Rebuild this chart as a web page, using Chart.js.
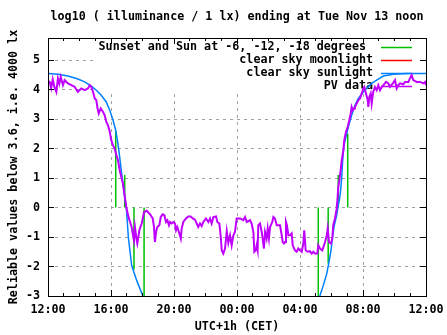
<!DOCTYPE html>
<html>
<head>
<meta charset="utf-8">
<script src="https://cdn.jsdelivr.net/npm/chart.js@4.4.1/dist/chart.umd.min.js"></script>
<style>
html, body { margin: 0; padding: 0; background: #fff; }
canvas { display: block; }
</style>
</head>
<body>
<canvas id="chart" width="447" height="335"></canvas>
<script>
// one day of readings, hours counted from 12:00 CET
var pvHours = [0, 0.11, 0.2, 0.3, 0.4, 0.53, 0.63, 0.72, 0.81, 0.95, 1.06, 1.27, 1.48, 1.7, 1.9, 2.11, 2.33, 2.54, 2.65, 2.75,
  2.86, 2.97, 3.07, 3.13, 3.22, 3.35, 3.49, 3.6, 3.7, 3.81, 3.92, 4.02, 4.13, 4.23, 4.34, 4.44, 4.55, 4.65, 4.76, 4.83,
  4.91, 4.97, 5.1, 5.21, 5.31, 5.38, 5.46, 5.52, 5.63, 5.67, 5.8, 5.95, 6.1, 6.27, 6.48, 6.65, 6.73, 6.79, 6.86, 6.94,
  7.07, 7.16, 7.28, 7.39, 7.49, 7.58, 7.68, 7.75, 7.85, 7.96, 8.06, 8.13, 8.21, 8.34, 8.43, 8.49, 8.59, 8.76, 8.91, 9.06,
  9.19, 9.33, 9.44, 9.54, 9.65, 9.76, 9.86, 10.03, 10.18, 10.29, 10.39, 10.5, 10.67, 10.75, 10.88, 10.97, 11.03, 11.13, 11.24, 11.35,
  11.45, 11.56, 11.66, 11.77, 11.87, 11.98, 12.19, 12.4, 12.51, 12.62, 12.83, 12.93, 13.04, 13.1, 13.19, 13.25, 13.31, 13.35, 13.46, 13.57,
  13.63, 13.71, 13.78, 13.88, 13.95, 14.03, 14.1, 14.24, 14.31, 14.41, 14.52, 14.73, 14.84, 14.9, 14.98, 15.05, 15.11, 15.17, 15.26, 15.37,
  15.47, 15.54, 15.68, 15.79, 15.89, 16, 16.11, 16.21, 16.27, 16.36, 16.49, 16.63, 16.74, 16.84, 16.95, 17.1, 17.16, 17.27, 17.42, 17.59,
  17.7, 17.76, 17.84, 17.97, 18.05, 18.11, 18.22, 18.33, 18.39, 18.43, 18.5, 18.58, 18.65, 18.75, 18.81, 18.92, 19.03, 19.13, 19.22, 19.28,
  19.35, 19.43, 19.49, 19.6, 19.7, 19.81, 19.92, 20.02, 20.08, 20.19, 20.3, 20.34, 20.4, 20.49, 20.55, 20.65, 20.76, 20.87, 20.97, 21.08,
  21.19, 21.3, 21.46, 21.61, 21.71, 21.92, 22.03, 22.14, 22.24, 22.35, 22.56, 22.67, 22.88, 22.98, 23.09, 23.19, 23.41, 23.62, 23.83, 23.94, 24];
var pvLog = [4.3, 4.26, 4.05, 4.35, 4.1, 3.92, 4.38, 4.2, 4.43, 4.15, 4.32, 4.21, 4.15, 4.09, 3.92, 4.04, 3.98, 4.04, 4.15, 4.09,
  3.92, 3.7, 3.64, 3.41, 3.19, 3.36, 3.25, 3.13, 2.91, 2.79, 2.57, 2.28, 2.11, 2, 1.78, 1.61, 1.27, 1.04, 0.81, 0.53,
  0.25, 0.02, -0.3, -0.49, -0.66, -0.88, -1.11, -0.66, -1.11, -1.22, -0.77, -0.54, -0.15, -0.11, -0.23, -0.37, -0.66, -1.17, -0.83, -0.66,
  -0.6, -0.32, -0.23, -0.26, -0.49, -0.43, -0.6, -0.49, -0.54, -0.49, -0.54, -0.77, -0.66, -0.88, -1.05, -0.71, -0.49, -0.37, -0.3, -0.3,
  -0.37, -0.41, -0.54, -0.66, -0.54, -0.63, -0.49, -0.37, -0.49, -0.37, -0.54, -0.32, -0.3, -0.49, -0.54, -1, -1.45, -1.56, -1.39, -0.8,
  -1.2, -0.94, -1.28, -0.94, -0.83, -0.37, -0.37, -0.43, -0.32, -0.49, -0.43, -0.54, -0.83, -1.5, -1.45, -1.28, -1.45, -0.6, -0.54, -0.83,
  -1.05, -1.39, -0.83, -1.05, -0.71, -1.05, -0.66, -0.49, -0.32, -0.37, -0.6, -0.6, -0.94, -1.17, -1.22, -1.17, -0.49, -0.6, -0.94, -0.94,
  -0.88, -1.28, -1.45, -1.5, -1.39, -1.45, -1.5, -1.22, -0.77, -1.45, -1.5, -1.48, -1.56, -1.5, -1.56, -1.56, -1.28, -1.39, -1.45, -1.17,
  -0.94, -0.71, -1.17, -1.22, -1.05, -0.6, -0.37, -0.03, 0.36, 0.7, 0.93, 1.27, 1.61, 1.94, 2.28, 2.57, 2.74, 2.96, 3.19, 3.41,
  3.3, 3.36, 3.41, 3.53, 3.64, 3.7, 3.87, 4.04, 4.09, 3.87, 3.64, 3.41, 3.75, 3.87, 3.53, 3.92, 4.09, 3.98, 4.15, 3.98,
  4.09, 4.15, 4.26, 4.21, 4.09, 4.23, 4.32, 4.04, 4.15, 4.21, 4.18, 4.26, 4.26, 4.38, 4.49, 4.32, 4.26, 4.26, 4.21, 4.26, 4.15];

// clear sky model (null = sun far below the horizon)
var sunHours = [0, 0.63, 1.27, 1.9, 2.33, 2.75, 3.07, 3.38, 3.7, 3.92, 4.13, 4.3, 4.44, 4.55, 4.65, 4.76, 4.87, 4.97, 5.1, 5.31,
  5.63, 6.01, 6.15, 12, 17.15, 17.27, 17.48, 17.7, 17.84, 17.97, 18.05, 18.18, 18.33, 18.43, 18.5, 18.58, 18.65, 18.71, 18.79, 19.07,
  19.28, 19.49, 19.7, 20.02, 20.23, 20.55, 20.87, 21.29, 21.92, 22.77, 24];
var sunLog = [4.55, 4.52, 4.46, 4.36, 4.26, 4.12, 3.98, 3.81, 3.58, 3.3, 2.96, 2.62, 2.17, 1.72, 1.27, 0.81, 0.36, 0.02, -1, -1.96,
  -2.47, -2.98, -3.3, null, -3.3, -2.98, -2.64, -2.24, -1.85, -1.45, -1.05, -0.6, -0.26, 0.08, 0.25, 0.59, 1.04, 1.61, 2.11, 2.74,
  3.13, 3.47, 3.7, 3.92, 4.04, 4.21, 4.32, 4.46, 4.52, 4.55, 4.55];

var moonHours = [];
var moonLog = [];

// sunset, -6, -12, -18 degrees in the evening, then the same in the morning
var twilightHours = [4.3, 4.87, 5.46, 6.1, 17.16, 17.79, 18.43, 19.03];
var twilightLog = [2.6, 1.1, -2.1, -3.2, -3.3, -1.9, 1.1, 2.5];

var tickLabels = ["12:00", "16:00", "20:00", "00:00", "04:00", "08:00", "12:00"];
var logTicks = [-3, -2, -1, 0, 1, 2, 3, 4, 5];

function toPoints(hours, values) {
  return hours.map(function(h, i) { return {x: h, y: values[i]}; });
}

// gnuplot style impulses from 0
function impulses(hours, values) {
  var pts = [];
  hours.forEach(function(h, i) {
    pts.push({x: h, y: 0}, {x: h, y: values[i]}, {x: h, y: null});
  });
  return pts;
}

var monoFont = {family: "'DejaVu Sans Mono', monospace", size: 11.7, weight: "bold", lineHeight: "14px"};

var keyBox = {
  id: "keyBox",
  beforeDatasetsDraw: function(chart) {
    var ctx = chart.ctx, a = chart.chartArea;
    ctx.save();
    ctx.fillStyle = "#fff";
    ctx.fillRect(97, a.top, a.right - 97, 55);
    ctx.font = "bold 11.7px 'DejaVu Sans Mono'";
    ctx.textAlign = "right";
    ctx.textBaseline = "middle";
    chart.data.datasets.forEach(function(ds, i) {
      var y = a.top + 9 + i * 13;
      ctx.fillStyle = "#000";
      ctx.fillText(ds.label, 373, y);
      ctx.strokeStyle = ds.borderColor;
      ctx.lineWidth = 1.5;
      ctx.beginPath();
      ctx.moveTo(381, y + 0.5);
      ctx.lineTo(412, y + 0.5);
      ctx.stroke();
    });
    ctx.restore();
  }
};

var frame = {
  id: "frame",
  afterDatasetsDraw: function(chart) {
    var ctx = chart.ctx, a = chart.chartArea;
    var xs = chart.scales.x, ys = chart.scales.y;
    function seg(x1, y1, x2, y2) {
      ctx.beginPath(); ctx.moveTo(x1, y1); ctx.lineTo(x2, y2); ctx.stroke();
    }
    ctx.save();
    ctx.strokeStyle = "#000";
    ctx.lineWidth = 1;
    ctx.strokeRect(a.left + 0.5, a.top + 0.5, a.right - a.left, a.bottom - a.top);
    xs.ticks.forEach(function(t) {
      var px = Math.round(xs.getPixelForValue(t.value) - 0.5) + 0.5;
      var len = t.value % 4 === 0 ? 6 : 3;
      seg(px, a.bottom, px, a.bottom - len);
      seg(px, a.top, px, a.top + len);
    });
    ys.ticks.forEach(function(t) {
      var py = Math.round(ys.getPixelForValue(t.value) - 0.5) + 0.5;
      seg(a.left, py, a.left + 6, py);
      seg(a.right, py, a.right - 6, py);
    });
    ctx.restore();
  }
};

Chart.defaults.color = "#000";

new Chart(document.getElementById("chart").getContext("2d"), {
  type: "line",
  data: {
    datasets: [
      {
        label: "Sunset and Sun at -6, -12, -18 degrees ",
        data: impulses(twilightHours, twilightLog),
        borderColor: "#00c000",
        borderWidth: 1.5,
        order: 3
      },
      {
        label: "clear sky moonlight",
        data: toPoints(moonHours, moonLog),
        borderColor: "#ff0000",
        borderWidth: 1.5,
        order: 2
      },
      {
        label: "clear sky sunlight",
        data: toPoints(sunHours, sunLog),
        borderColor: "#0080ff",
        borderWidth: 1.5,
        order: 1
      },
      {
        label: "PV data",
        data: toPoints(pvHours, pvLog),
        borderColor: "#c000ff",
        borderWidth: 2,
        order: 0
      }
    ]
  },
  options: {
    responsive: false,
    animation: false,
    devicePixelRatio: 1,
    events: [],
    spanGaps: false,
    elements: { point: { radius: 0 }, line: { tension: 0 } },
    layout: { padding: { top: 0, right: 21, left: 0, bottom: 0 } },
    plugins: {
      legend: { display: false },
      tooltip: { enabled: false },
      title: {
        display: true,
        fullSize: false,
        text: "log10 ( illuminance / 1 lx) ending at Tue Nov 13 noon",
        font: monoFont,
        color: "#000",
        padding: { top: 10, bottom: 14 }
      }
    },
    scales: {
      x: {
        type: "linear",
        min: 0,
        max: 24,
        afterBuildTicks: function(scale) {
          var t = [];
          for (var h = 0; h <= 24; h++) t.push({value: h});
          scale.ticks = t;
        },
        afterFit: function(scale) {
          scale.height = 39;
          scale.paddingLeft = 0;
          scale.paddingRight = 0;
        },
        ticks: {
          autoSkip: false,
          maxRotation: 0,
          padding: 7,
          font: monoFont,
          callback: function(value) {
            return value % 4 === 0 ? tickLabels[value / 4] : "";
          }
        },
        grid: {
          drawTicks: false,
          lineWidth: 1,
          color: function(c) {
            return c.tick && c.tick.value % 4 === 0 ? "#a0a0a0" : "rgba(0,0,0,0)";
          }
        },
        border: { display: false, dash: [3, 4] },
        title: {
          display: true,
          text: "UTC+1h (CET)",
          font: monoFont,
          padding: { top: 0, bottom: 1 }
        }
      },
      y: {
        type: "linear",
        min: -3,
        max: 5.75,
        afterBuildTicks: function(scale) {
          scale.ticks = logTicks.map(function(v) { return {value: v}; });
        },
        afterFit: function(scale) {
          scale.width = 48;
          scale.paddingTop = 0;
          scale.paddingBottom = 0;
        },
        ticks: {
          padding: 8,
          font: monoFont,
          callback: function(value) { return String(value); }
        },
        grid: { drawTicks: false, lineWidth: 1, color: "#a0a0a0" },
        border: { display: false, dash: [3, 4] },
        title: {
          display: true,
          text: "Reliable values below 3.6, i.e. 4000 lx",
          font: monoFont,
          padding: { top: 7, bottom: 0 }
        }
      }
    }
  },
  plugins: [keyBox, frame]
});
</script>
</body>
</html>
